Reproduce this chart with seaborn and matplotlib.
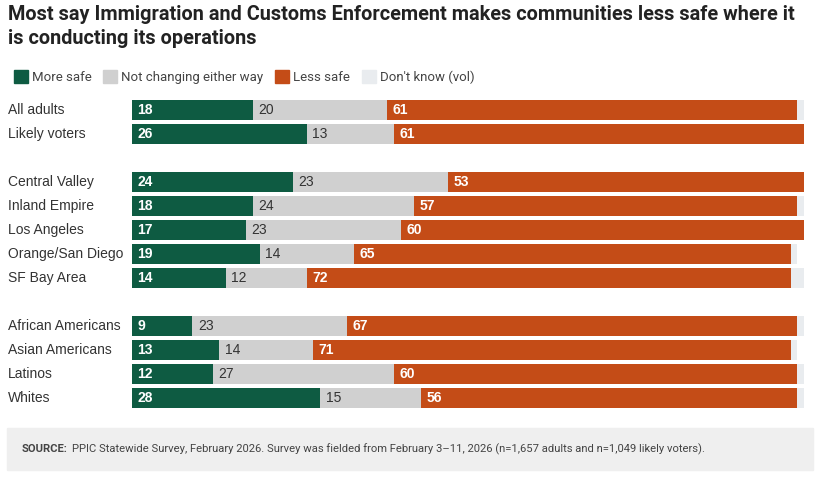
import numpy as np
import pandas as pd
import matplotlib
matplotlib.use('Agg')
import matplotlib.pyplot as plt
import matplotlib.patches as mpatches
import matplotlib.transforms as mtransforms
import seaborn as sns

# 数据
groups = ['All adults', 'Likely voters',
          'Central Valley', 'Inland Empire', 'Los Angeles', 'Orange/San Diego', 'SF Bay Area',
          'African Americans', 'Asian Americans', 'Latinos', 'Whites']
row_pos = [0, 1, 3, 4, 5, 6, 7, 9, 10, 11, 12]
more_safe = [18, 26, 24, 18, 17, 19, 14, 9, 13, 12, 28]
not_changing = [20, 13, 23, 24, 23, 14, 12, 23, 14, 27, 15]
less_safe = [61, 61, 53, 57, 60, 65, 72, 67, 71, 60, 56]
dont_know = [1, 1, 1, 1, 1, 1, 2, 1, 1, 1, 1]
series_names = ['More safe', 'Not changing either way', 'Less safe', "Don't know (vol)"]
title_lines = ['Most say Immigration and Customs Enforcement makes communities less safe where it',
               'is conducting its operations']

colors = ['#0e5b42', '#d0d0d0', '#c44c17', '#e9ecef']

sns.set_theme(style='white')
plt.rcParams['font.family'] = ['Liberation Sans', 'DejaVu Sans']

df = pd.DataFrame({'pos': row_pos, 'a': more_safe, 'b': not_changing,
                   'c': less_safe, 'd': dont_know})
df['c1'] = df['a']
df['c2'] = df['c1'] + df['b']
df['c3'] = df['c2'] + df['c']
df['c4'] = df['c3'] + df['d']

fig = plt.figure(figsize=(8.2, 4.83), dpi=100)
ax = fig.add_axes([132 / 820, 1 - 410 / 483, 672 / 820, 312 / 483])

# 堆叠条形：先画累计总和，再逐层覆盖
for col, color in zip(['c4', 'c3', 'c2', 'c1'], colors[::-1]):
    sns.barplot(data=df, x=col, y='pos', orient='h', native_scale=True,
                color=color, width=0.83, errorbar=None, linewidth=0,
                saturation=1, ax=ax)

ax.set_xlim(0, 100)
ax.set_ylim(12.5, -0.5)
ax.axis('off')

label_tr = mtransforms.blended_transform_factory(fig.transFigure, ax.transData)

# 数值标签
pad = 0.8
for i in range(len(groups)):
    y = row_pos[i]
    ax.text(pad, y, str(more_safe[i]), color='white', fontweight='bold',
            fontsize=10, va='center', ha='left')
    ax.text(df['c1'][i] + pad, y, str(not_changing[i]), color='#333333',
            fontsize=10, va='center', ha='left')
    ax.text(df['c2'][i] + pad, y, str(less_safe[i]), color='white', fontweight='bold',
            fontsize=10, va='center', ha='left')
    # 类别标签
    ax.text(8 / 820, y, groups[i], transform=label_tr,
            color='#333333', fontsize=10, va='center', ha='left')

# 标题（两行，按基线定位）
for line, base_y in zip(title_lines, [20, 44]):
    fig.text(8 / 820, 1 - base_y / 483, line,
             fontsize=14.3, fontweight='bold', color='#222222', va='baseline', ha='left',
             family=['Roboto', 'DejaVu Sans'])

# 图例
handles = [mpatches.Patch(color=c) for c in colors]
fig.legend(handles, series_names, loc='center left',
           bbox_to_anchor=(2 / 820, 1 - 77 / 483), ncol=4, frameon=False,
           handlelength=1.05, handleheight=1.1, handletextpad=0.3,
           columnspacing=0.9, prop={'family': ['Roboto', 'DejaVu Sans'], 'size': 9.5},
           labelcolor='#444444')

# 来源框
fig.patches.append(mpatches.Rectangle((7 / 820, 1 - 470 / 483), 806 / 820, 42 / 483,
                                      transform=fig.transFigure, color='#efefef',
                                      zorder=0))
src_font = ['Roboto', 'DejaVu Sans']
t1 = fig.text(22 / 820, 1 - 449 / 483, 'SOURCE:', fontsize=8.1, fontweight='bold',
              color='#444444', va='center', ha='left', family=src_font)
renderer = fig.canvas.get_renderer()
bb = t1.get_window_extent(renderer)
fig.text((bb.x1 + 4) / 820, 1 - 449 / 483,
         'PPIC Statewide Survey, February 2026. Survey was fielded from February 3\u201311, 2026 '
         '(n=1,657 adults and n=1,049 likely voters).',
         fontsize=8.1, color='#444444', va='center', ha='left', family=src_font)

fig.savefig('out.png', dpi=100)
